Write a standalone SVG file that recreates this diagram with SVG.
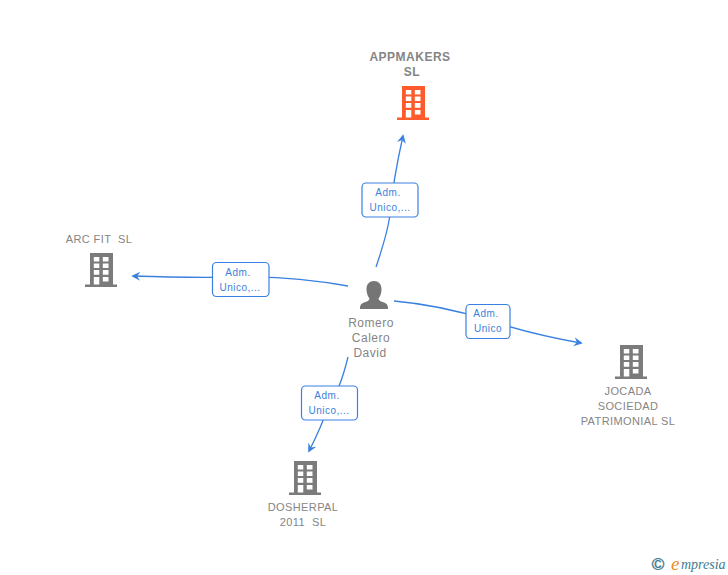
<svg xmlns="http://www.w3.org/2000/svg" width="728" height="575" viewBox="0 0 728 575">
<style>
text{font-family:"Liberation Sans",Arial,sans-serif}
.n{font-size:11px;fill:#858585;text-anchor:middle;letter-spacing:.4px}
.p{font-size:12px;fill:#858585;text-anchor:middle;letter-spacing:.5px}
.b{font-size:12px;font-weight:bold;fill:#858585;text-anchor:middle;letter-spacing:.5px}
.l{font-size:10px;fill:#3b7fdc;text-anchor:middle;letter-spacing:.5px}
.c{fill:none;stroke:#3a80e0;stroke-width:1.3}
.r{fill:#fff;stroke:#3a80e0;stroke-width:1.2}
</style>
<defs>
<marker id="a" viewBox="0 0 10 10" refX="8" refY="5" markerWidth="9" markerHeight="9" markerUnits="userSpaceOnUse" orient="auto"><path d="M0,0L10,5L0,10L3.500,5Z" fill="#3a80e0"/></marker>
<symbol id="bld" width="32" height="35" viewBox="0 0 32 35"><path fill-rule="evenodd" d="M5,0H28V31.500H32V34H0V31.500H5ZM8.800,4V8.500H14.300V4ZM17.800,4V8.500H23.500V4ZM8.800,10.500V15H14.300V10.500ZM17.800,10.500V15H23.500V10.500ZM8.800,17V21.800H14.300V17ZM17.800,17V21.800H23.500V17ZM8.800,24V31.500H14.300V24ZM17.800,24V28.500H23.500V24Z"/></symbol>
</defs>
<g id="connectors">
<path class="c" marker-end="url(#a)" d="M376,267Q387,235 390,215Q393,180 403,136"/>
<path class="c" marker-end="url(#a)" d="M348,286Q290,276 240,277Q190,278 133,276"/>
<path class="c" marker-end="url(#a)" d="M394,301Q440,305 488,320Q530,334 581,343"/>
<path class="c" marker-end="url(#a)" d="M348,357Q340,390 329,405Q320,430 309,451"/>
</g>
<g id="edge-label-1"><rect class="r" x="362" y="183" width="56" height="34" rx="4"/><text class="l" x="388" y="196">Adm.</text><text class="l" x="390" y="211">Unico,...</text></g>
<g id="edge-label-2"><rect class="r" x="212.500" y="262.500" width="56.500" height="34" rx="4"/><text class="l" x="238" y="276">Adm.</text><text class="l" x="240" y="291">Unico,...</text></g>
<g id="edge-label-3"><rect class="r" x="466" y="304.500" width="44" height="34" rx="4"/><text class="l" x="486" y="317">Adm.</text><text class="l" x="488" y="332">Unico</text></g>
<g id="edge-label-4"><rect class="r" x="301.500" y="386" width="56" height="34" rx="4"/><text class="l" x="327" y="399">Adm.</text><text class="l" x="329" y="414">Unico,...</text></g>
<g id="node-appmakers"><text class="b" x="410" y="61">APPMAKERS</text><text class="b" x="412" y="76">SL</text><use href="#bld" x="397" y="86" fill="#ff5a2b"/></g>
<g id="node-arcfit"><text class="n" x="99" y="243" xml:space="preserve">ARC FIT  SL</text><use href="#bld" x="85" y="253" fill="#7b7b7b"/></g>
<g id="node-person"><path fill="#757575" d="M374,281C369.500,281 366.500,284 366.500,289C366.500,293 367.500,296 369.500,298.500C369.500,300.500 367,301.500 364,302.500C361,303.500 360,305 360,309H388C388,305 387,303.500 384,302.500C381,301.500 378.500,300.500 378.500,298.500C380.500,296 381.500,293 381.500,289C381.500,284 378.500,281 374,281Z"/><text class="p" x="371" y="327">Romero</text><text class="p" x="371" y="342">Calero</text><text class="p" x="370" y="357">David</text></g>
<g id="node-jocada"><use href="#bld" x="615" y="345" fill="#7b7b7b"/><text class="n" x="628" y="395">JOCADA</text><text class="n" x="628" y="410">SOCIEDAD</text><text class="n" x="628" y="425">PATRIMONIAL SL</text></g>
<g id="node-dosherpal"><use href="#bld" x="289" y="461" fill="#7b7b7b"/><text class="n" x="303" y="511">DOSHERPAL</text><text class="n" x="303" y="526" xml:space="preserve">2011  SL</text></g>
<g id="logo"><text x="658" y="570" font-size="17" fill="#3d7c92" stroke="#3d7c92" stroke-width=".4" text-anchor="middle">©</text><text x="671" y="570" font-size="19" font-style="italic" fill="#f08a1d" style="font-family:'Liberation Serif',serif">e</text><text x="681" y="569" font-size="14" font-style="italic" fill="#3d7c92" style="font-family:'Liberation Serif',serif">mpresia</text></g>
</svg>
